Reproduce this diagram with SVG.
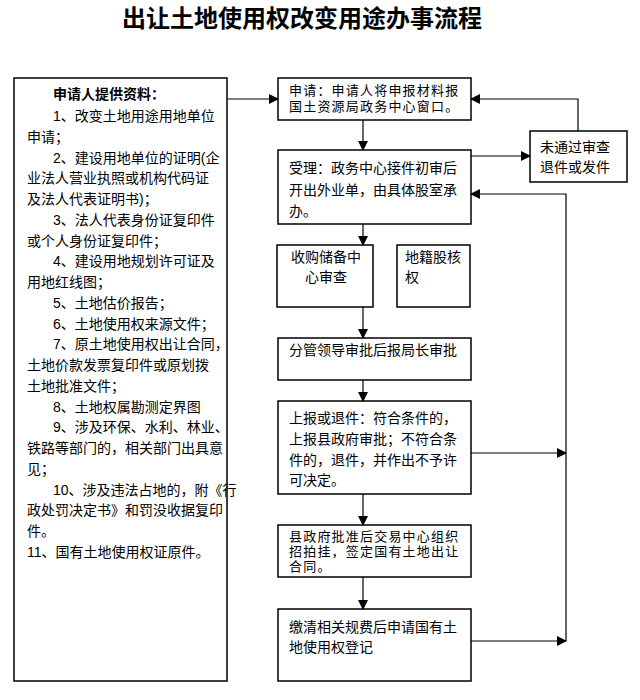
<svg xmlns="http://www.w3.org/2000/svg" width="640" height="700" viewBox="0 0 640 700">
<defs>
<style>
.box{fill:#fff;stroke:#000;stroke-width:1.5}
.t{font-family:"Liberation Sans","Noto Sans CJK SC",sans-serif;font-size:14px;fill:#000}
.tt{font-family:"Liberation Sans","Noto Sans CJK SC",sans-serif;font-size:13px;letter-spacing:1.2px;fill:#000}
.c{fill:none;stroke:#000;stroke-width:1.2}
</style>
<marker id="ah" markerWidth="10" markerHeight="10" refX="9" refY="5" orient="auto" markerUnits="userSpaceOnUse">
<path d="M0,0 L10,5 L0,10 Z" fill="#000"/>
</marker>
</defs>
<rect width="640" height="700" fill="#fff"/>
<text x="302" y="27" text-anchor="middle" style="font-family:'Liberation Sans','Noto Sans CJK SC',sans-serif;font-size:24px;font-weight:bold">出让土地使用权改变用途办事流程</text>

<g id="materials">
<rect class="box" x="14" y="78" width="213" height="603"/>
<text class="t" x="53" y="99" style="font-weight:bold">申请人提供资料：</text>
<text class="t" x="53" y="121">1、改变土地用途用地单位</text>
<text class="t" x="27" y="141.8">申请；</text>
<text class="t" x="53" y="162.5">2、建设用地单位的证明(企</text>
<text class="t" x="27" y="183.3">业法人营业执照或机构代码证</text>
<text class="t" x="27" y="204">及法人代表证明书)；</text>
<text class="t" x="53" y="224.8">3、法人代表身份证复印件</text>
<text class="t" x="27" y="245.6">或个人身份证复印件；</text>
<text class="t" x="53" y="266.3">4、建设用地规划许可证及</text>
<text class="t" x="27" y="287.1">用地红线图；</text>
<text class="t" x="53" y="307.8">5、土地估价报告；</text>
<text class="t" x="53" y="328.6">6、土地使用权来源文件；</text>
<text class="t" x="53" y="349.4">7、原土地使用权出让合同，</text>
<text class="t" x="27" y="370.1">土地价款发票复印件或原划拨</text>
<text class="t" x="27" y="390.9">土地批准文件；</text>
<text class="t" x="53" y="411.6">8、土地权属勘测定界图</text>
<text class="t" x="53" y="432.4">9、涉及环保、水利、林业、</text>
<text class="t" x="27" y="453.2">铁路等部门的，相关部门出具意</text>
<text class="t" x="27" y="473.9">见；</text>
<text class="t" x="53" y="494.7">10、涉及违法占地的，附《行</text>
<text class="t" x="27" y="515.4">政处罚决定书》和罚没收据复印</text>
<text class="t" x="27" y="536.2">件。</text>
<text class="t" x="27" y="557">11、国有土地使用权证原件。</text>
</g>

<g id="apply">
<rect class="box" x="278" y="78" width="193" height="42"/>
<text class="tt" x="289" y="95">申请：申请人将申报材料报</text>
<text class="tt" x="289" y="111">国土资源局政务中心窗口。</text>
</g>

<g id="accept">
<rect class="box" x="278" y="150" width="193" height="74"/>
<text class="t" x="289" y="173">受理：政务中心接件初审后</text>
<text class="t" x="289" y="195">开出外业单，由具体股室承</text>
<text class="t" x="289" y="216">办。</text>
</g>

<g id="reject">
<rect class="box" x="530" y="131" width="97" height="51"/>
<text class="t" x="540" y="152">未通过审查</text>
<text class="t" x="540" y="172">退件或发件</text>
</g>

<g id="reserve">
<rect class="box" x="277" y="245" width="96" height="62"/>
<text class="t" x="326" y="262" text-anchor="middle">收购储备中</text>
<text class="t" x="326" y="282" text-anchor="middle">心审查</text>
</g>

<g id="cadastre">
<rect class="box" x="397" y="245" width="73" height="62"/>
<text class="t" x="405" y="262">地籍股核</text>
<text class="t" x="405" y="282">权</text>
</g>

<g id="leader">
<rect class="box" x="278" y="338" width="193" height="42"/>
<text class="t" x="289" y="355">分管领导审批后报局长审批</text>
</g>

<g id="report">
<rect class="box" x="278" y="401" width="193" height="93"/>
<text class="t" x="289" y="423">上报或退件：符合条件的，</text>
<text class="t" x="289" y="444">上报县政府审批；不符合条</text>
<text class="t" x="289" y="465">件的，退件，并作出不予许</text>
<text class="t" x="289" y="485">可决定。</text>
</g>

<g id="auction">
<rect class="box" x="278" y="525" width="193" height="52"/>
<text class="tt" x="289" y="541">县政府批准后交易中心组织</text>
<text class="tt" x="289" y="556">招拍挂，签定国有土地出让</text>
<text class="tt" x="289" y="571">合同。</text>
</g>

<g id="register">
<rect class="box" x="278" y="609" width="193" height="72"/>
<text class="t" x="289" y="632">缴清相关规费后申请国有土</text>
<text class="t" x="289" y="652">地使用权登记</text>
</g>

<g id="connectors">
<line class="c" x1="227" y1="99" x2="278" y2="99" marker-end="url(#ah)"/>
<line class="c" x1="363" y1="120" x2="363" y2="150" marker-end="url(#ah)"/>
<line class="c" x1="471" y1="156" x2="530" y2="156" marker-end="url(#ah)"/>
<polyline class="c" points="578,131 578,99 471,99" marker-end="url(#ah)"/>
<line class="c" x1="363" y1="224" x2="363" y2="245" marker-end="url(#ah)"/>
<line class="c" x1="363" y1="307" x2="363" y2="338" marker-end="url(#ah)"/>
<line class="c" x1="363" y1="380" x2="363" y2="401" marker-end="url(#ah)"/>
<line class="c" x1="363" y1="494" x2="363" y2="525" marker-end="url(#ah)"/>
<line class="c" x1="363" y1="577" x2="363" y2="609" marker-end="url(#ah)"/>
<line class="c" x1="471" y1="453" x2="566" y2="453" marker-end="url(#ah)"/>
<line class="c" x1="471" y1="641" x2="566" y2="641" marker-end="url(#ah)"/>
<polyline class="c" points="566,641 566,194 471,194" marker-end="url(#ah)"/>
</g>
</svg>
